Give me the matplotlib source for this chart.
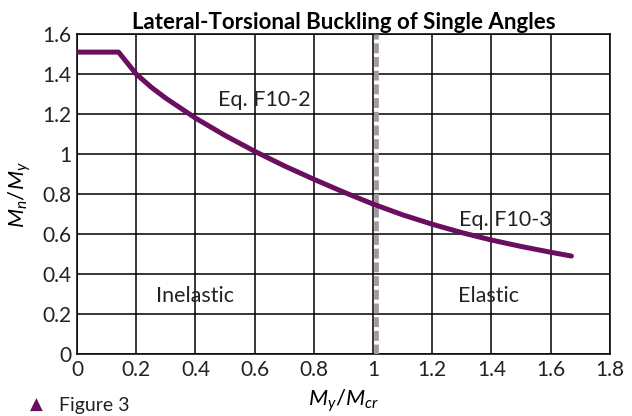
"""Lateral-torsional buckling curve for single angles (AISC F10)."""

import matplotlib
matplotlib.use("Agg")
import matplotlib.pyplot as plt

# Curve values (My/Mcr vs Mn/My)
x_vals = [0.0, 0.14, 0.2, 0.25, 0.3, 0.4, 0.5, 0.6, 0.7, 0.8, 0.9, 1.0,
          1.1, 1.2, 1.3, 1.4, 1.5, 1.6, 1.67]
y_vals = [1.51, 1.51, 1.40, 1.335, 1.279, 1.180, 1.093, 1.014, 0.941, 0.874,
          0.810, 0.750, 0.696, 0.649, 0.607, 0.570, 0.538, 0.509, 0.490]
x_ticks = [0, 0.2, 0.4, 0.6, 0.8, 1, 1.2, 1.4, 1.6, 1.8]
y_ticks = [0, 0.2, 0.4, 0.6, 0.8, 1, 1.2, 1.4, 1.6]
x_ticklabels = ["0", "0.2", "0.4", "0.6", "0.8", "1", "1.2", "1.4", "1.6", "1.8"]
y_ticklabels = ["0", "0.2", "0.4", "0.6", "0.8", "1", "1.2", "1.4", "1.6"]
boundary_x = 1.01

plt.rcParams["font.family"] = ["Lato", "DejaVu Sans"]
plt.rcParams["mathtext.fontset"] = "custom"
plt.rcParams["mathtext.rm"] = "Lato"
plt.rcParams["mathtext.it"] = "Lato:italic"

purple = "#6a0f5f"
ink = "#222222"
fig = plt.figure(figsize=(6.32, 4.16), dpi=100)
ax = fig.add_axes([0.122, 0.149, 0.843, 0.769])

ax.set_xlim(0, 1.8)
ax.set_ylim(0, 1.6)
ax.set_xticks(x_ticks)
ax.set_xticklabels(x_ticklabels)
ax.set_yticks(y_ticks)
ax.set_yticklabels(y_ticklabels)
ax.tick_params(length=0, labelsize=15, pad=4, colors=ink)
ax.grid(True, color="black", linewidth=1.1)
for s in ax.spines.values():
    s.set_linewidth(1.1)
ax.set_axisbelow(True)

ax.axvline(boundary_x, color="#a397a3", linewidth=3.4, dashes=(2.1, 0.8), zorder=3)
ax.plot(x_vals, y_vals, color=purple, linewidth=3.6, solid_capstyle="round", zorder=4)

note = dict(fontsize=15.5, va="center", color=ink)
ax.text(0.475, 1.27, "Eq. F10-2", ha="left", **note)
ax.text(1.29, 0.67, "Eq. F10-3", ha="left", **note)
ax.text(0.40, 0.29, "Inelastic", ha="center", **note)
ax.text(1.39, 0.29, "Elastic", ha="center", **note)

ax.set_title("Lateral-Torsional Buckling of Single Angles", fontsize=16,
             fontweight="bold", pad=4)
ax.set_xlabel(r"$M_y/M_{cr}$", fontsize=16, labelpad=6)
ax.set_ylabel(r"$M_n/M_y$", fontsize=16, labelpad=7)

fig.text(0.058, 0.006, "\u25b2", color=purple, fontsize=12, ha="center", va="bottom",
         family=["DejaVu Sans"])
fig.text(0.094, 0.004, "Figure 3", color=ink, fontsize=14, ha="left", va="bottom")

plt.savefig("out.png", dpi=100)
plt.close()
